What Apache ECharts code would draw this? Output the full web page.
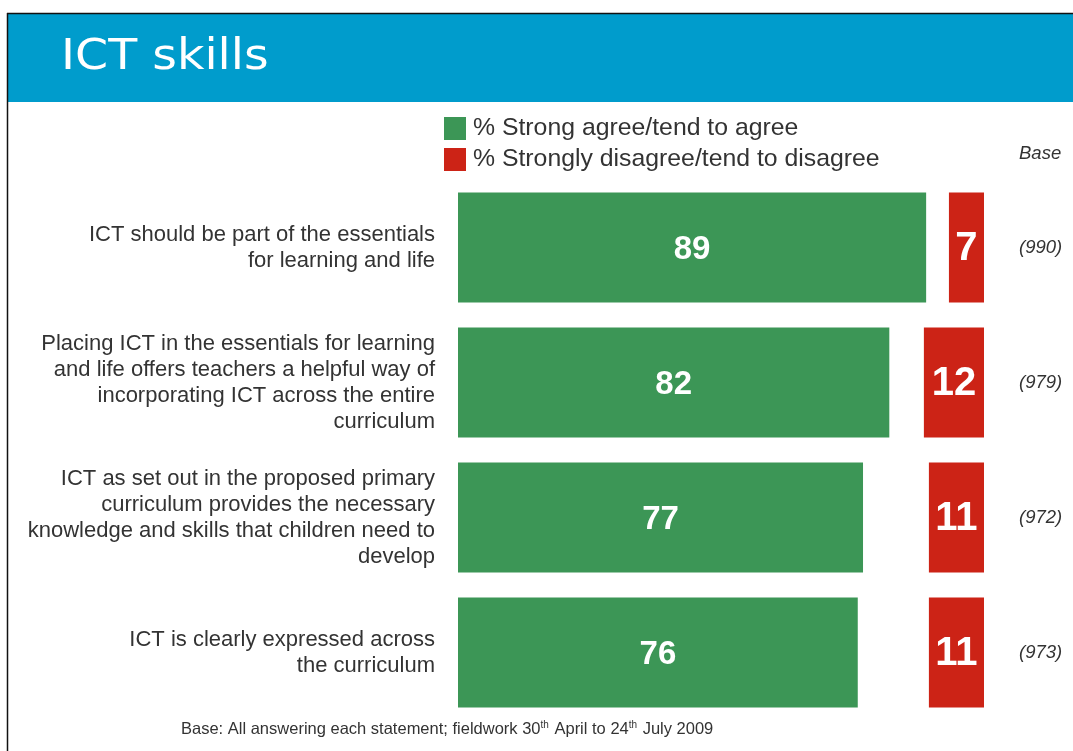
<!DOCTYPE html>
<html>
<head>
<meta charset="utf-8">
<script src="https://cdn.jsdelivr.net/npm/echarts@6/dist/echarts.min.js"></script>
<style>
  html, body { margin: 0; padding: 0; background: #ffffff; }
  #chart { width: 1073px; height: 751px; }
</style>
</head>
<body>
<div id="chart"></div>
<script>
// Survey statements (top to bottom)
const statements = [
  'ICT should be part of the essentials\nfor learning and life',
  'Placing ICT in the essentials for learning\nand life offers teachers a helpful way of\nincorporating ICT across the entire\ncurriculum',
  'ICT as set out in the proposed primary\ncurriculum provides the necessary\nknowledge and skills that children need to\ndevelop',
  'ICT is clearly expressed across\nthe curriculum'
];
const agree = [89, 82, 77, 76];
const disagree = [7, 12, 11, 11];
const bases = ['(990)', '(979)', '(972)', '(973)'];
const seriesNames = ['% Strong agree/tend to agree', '% Strongly disagree/tend to disagree'];

const GREEN = '#3c9656';
const RED = '#cc2316';
const BLUE = '#009ccc';
const TEXT = '#333333';
const FONT = '"Liberation Sans", Arial, sans-serif';

const chart = echarts.init(document.getElementById('chart'));

chart.setOption({
  animation: false,
  backgroundColor: '#ffffff',
  textStyle: { fontFamily: FONT },
  graphic: [
    // header band and frame
    { type: 'rect', left: 8, top: 14, shape: { width: 1065, height: 88 }, style: { fill: BLUE } },
    { type: 'line', shape: { x1: 7, y1: 13.5, x2: 1073, y2: 13.5 }, style: { stroke: '#111', lineWidth: 1.5 } },
    { type: 'line', shape: { x1: 7.5, y1: 13, x2: 7.5, y2: 751 }, style: { stroke: '#111', lineWidth: 1.5 } },
    {
      type: 'text', x: 61, y: 37, scaleX: 1.13,
      style: { text: 'ICT skills', fill: '#ffffff', font: 'normal 42px "DejaVu Sans", sans-serif' }
    },
    {
      type: 'text', left: 1019, top: 144,
      style: { text: 'Base', fill: TEXT, font: 'italic 18.5px ' + FONT }
    },
    {
      type: 'text', left: 181, top: 720,
      style: {
        text: 'Base: All answering each statement; fieldwork 30{sup|th} April to 24{sup|th} July 2009',
        fill: TEXT, font: '16.5px ' + FONT,
        rich: {
          sup: { fontSize: 10, fill: TEXT, verticalAlign: 'top', padding: [0, 1, 8, 0] }
        }
      }
    }
  ],
  legend: {
    orient: 'vertical',
    left: 444, top: 116, padding: 0,
    itemWidth: 22, itemHeight: 23, itemGap: 6,
    icon: 'rect',
    selectedMode: false,
    data: seriesNames,
    textStyle: { fontSize: 24.8, color: TEXT, fontFamily: FONT, padding: [0, 0, 0, 2] }
  },
  grid: { left: 458, right: 89, top: 180, height: 540, containLabel: false },
  xAxis: [
    { type: 'value', min: 0, max: 100, show: false },
    { type: 'value', min: 0, max: 105, inverse: true, show: false }
  ],
  yAxis: [
    {
      type: 'category', data: statements, inverse: true,
      axisLine: { show: false }, axisTick: { show: false }, splitLine: { show: false },
      axisLabel: {
        margin: 23, fontSize: 22, lineHeight: 26, color: TEXT, align: 'right', fontFamily: FONT
      }
    },
    {
      type: 'category', data: bases, inverse: true, position: 'right',
      axisLine: { show: false }, axisTick: { show: false }, splitLine: { show: false },
      axisLabel: {
        margin: 35, fontSize: 18.5, fontStyle: 'italic', color: TEXT, align: 'left', fontFamily: FONT
      }
    }
  ],
  series: [
    {
      name: seriesNames[0], type: 'bar', xAxisIndex: 0, yAxisIndex: 0,
      data: agree, barWidth: 110, barGap: '-100%',
      itemStyle: { color: GREEN },
      label: {
        show: true, position: 'inside', color: '#ffffff', offset: [0, 2],
        fontSize: 33, fontWeight: 'bold', fontFamily: FONT
      }
    },
    {
      name: seriesNames[1], type: 'bar', xAxisIndex: 1, yAxisIndex: 0,
      data: disagree, barWidth: 110, barGap: '-100%',
      itemStyle: { color: RED },
      label: {
        show: true, position: 'inside', color: '#ffffff', offset: [0, 1],
        fontSize: 40, fontWeight: 'bold', fontFamily: FONT
      }
    }
  ]
});
</script>
</body>
</html>
